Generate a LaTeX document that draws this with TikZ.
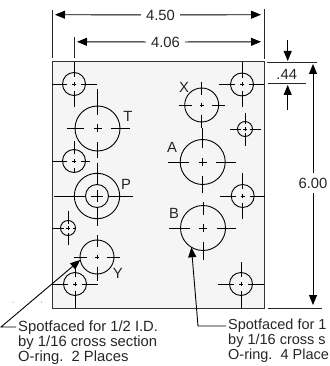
\documentclass[tikz,border=0pt]{standalone}
\usepackage{fontspec}
\setmainfont{Liberation Sans}
\usetikzlibrary{arrows.meta}

\def\armstop{0.6}
% name, x, y, radius, left, right, top, bottom, cross half
\newcommand{\hole}[9]{%
  \node[bore, minimum size=#4*2] (#1) at (#2,#3) {};
  \draw[centre] (#5,#3) -- ({#2-\armstop*#4},#3);
  \draw[centre] ({#2+\armstop*#4},#3) -- (#6,#3);
  \draw[centre] (#2,#7) -- (#2,{#3-\armstop*#4});
  \draw[centre] (#2,{#3+\armstop*#4}) -- (#2,#8);
  \draw[centre] ({#2-#9},#3) -- ({#2+#9},#3);
  \draw[centre] (#2,{#3-#9}) -- (#2,{#3+#9});
}

\begin{document}
\begin{tikzpicture}[x=1pt, y=-1pt, font=\fontsize{14.8}{15}\selectfont]
    % Styles
    \tikzstyle{plate} = [rectangle, draw=black!80, line width=1pt, fill=black!4, inner sep=0, outer sep=0]
    \tikzstyle{bore} = [circle, draw=black, line width=0.9pt, inner sep=0, outer sep=0]
    \tikzstyle{centre} = [draw=black, line width=0.8pt]
    \tikzstyle{ext} = [draw=black!85, line width=0.8pt]
    \tikzstyle{arrow} = [-{Stealth[length=10pt, width=8pt, inset=0pt]}, draw=black, line width=0.9pt]
    \tikzstyle{portlabel} = [inner sep=1pt, text=black!85]
    \tikzstyle{dimlabel} = [inner sep=5pt, text=black!85]
    \tikzstyle{note} = [align=left, anchor=north west, inner sep=0, text=black!85]

    \useasboundingbox (0,0) rectangle (329,366);

    % Plate
    \node[plate, minimum width=212pt, minimum height=246pt] (body) at (158,185) {};

    % Small holes
    \hole{hA}{74}{84}{11.5}{52}{97}{62}{107}{2}
    \hole{hB}{74}{161}{11.5}{52}{90}{141}{173}{2}
    \hole{hC}{68}{228}{7.5}{52}{76}{211}{245}{2}
    \hole{hD}{75}{284}{11.5}{52}{98}{263}{308}{2}
    \hole{hE}{242}{84.5}{11.5}{219}{264}{62}{107}{2}
    \hole{hF}{245}{129}{7.5}{230}{261}{113}{146}{2}
    \hole{hG}{242.7}{196}{11.5}{220}{265}{173}{219}{2}
    \hole{hH}{241}{284}{11.5}{218}{264}{262}{308}{2}

    % Ports
    \hole{portT}{97.5}{128.5}{22.5}{67}{130}{89}{158}{4}
    \def\armstop{0.5}
    \hole{portP}{97}{196}{22.7}{54}{133}{163}{226}{6}
    \def\armstop{0.6}
    \node[bore, minimum size=23pt] (portPinner) at (97,196) {};
    \hole{portY}{97}{257}{17}{74}{120}{235}{281}{2}
    \hole{portX}{201.7}{105}{17}{179}{225}{82}{128}{2}
    \hole{portA}{202.7}{162}{22.5}{168}{236}{128}{193}{4}
    \hole{portB}{203}{228}{22.5}{169}{236}{202}{260}{4}

    % Port letters
    \node[portlabel] (labT) at (128,116) {T};
    \node[portlabel] (labP) at (126,184) {P};
    \node[portlabel] (labY) at (117.7,273.7) {Y};
    \node[portlabel] (labX) at (184,87.7) {X};
    \node[portlabel] (labA) at (172,147) {A};
    \node[portlabel] (labB) at (174,213) {B};

    % Dimensions
    \node[dimlabel] (dimW) at (160.5,15) {4.50};
    \node[dimlabel] (dimH) at (165.5,42) {4.06};
    \node[portlabel] (dimO) at (286.7,74) {.44};
    \node[dimlabel] (dimS) at (313,183) {6.00};

    \coordinate (wL) at (55,14.7);
    \coordinate (wR) at (261,14.7);
    \coordinate (hL) at (77,41.8);
    \coordinate (hR) at (261,41.8);
    \coordinate (oT) at (287.7,40);
    \coordinate (oTe) at (287.7,61);
    \coordinate (oB) at (287.7,110);
    \coordinate (oBe) at (287.7,85);
    \coordinate (sT) at (313,64);
    \coordinate (sB) at (313,305);

    \draw[ext] (52,10) -- (52,58);
    \draw[ext] (74,37) -- (74,58);
    \draw[ext] (264,9) -- (264,59);
    \draw[ext] (267,62) -- (317,62);
    \draw[ext] (268,83.5) -- (305.5,83.5);
    \draw[ext] (268,308) -- (322,308);

    % Arrows
    \draw[arrow] (dimW) -- (wL);
    \draw[arrow] (dimW) -- (wR);
    \draw[arrow] (dimH) -- (hL);
    \draw[arrow] (dimH) -- (hR);
    \draw[arrow] (oT) -- (oTe);
    \draw[arrow] (oB) -- (oBe);
    \draw[arrow] (dimS) -- (sT);
    \draw[arrow] (dimS) -- (sB);

    % Notes
    \node[note] (noteL) at (18,320.5) {Spotfaced for 1/2 I.D.\\by 1/16 cross section\\O-ring.\ \ 2 Places};
    \node[note, font=\fontsize{14.5}{15}\selectfont] (noteR) at (228,319) {Spotfaced for 1\\by 1/16 cross s\\O-ring.\ \ 4 Place};

    \coordinate (noteLend) at (16,327);
    \coordinate (bendL) at (1,327);
    \coordinate (noteRend) at (226,326);
    \coordinate (bendR) at (198,326);
    \draw[arrow] (noteLend) -- (bendL) -- (portY.190);
    \draw[arrow] (noteRend) -- (bendR) -- (portB.239);

    % Specks
    \fill[black!70] (13,302) circle (0.5pt);
    \fill[black!70] (41.7,302) circle (0.5pt);
\end{tikzpicture}
\end{document}
